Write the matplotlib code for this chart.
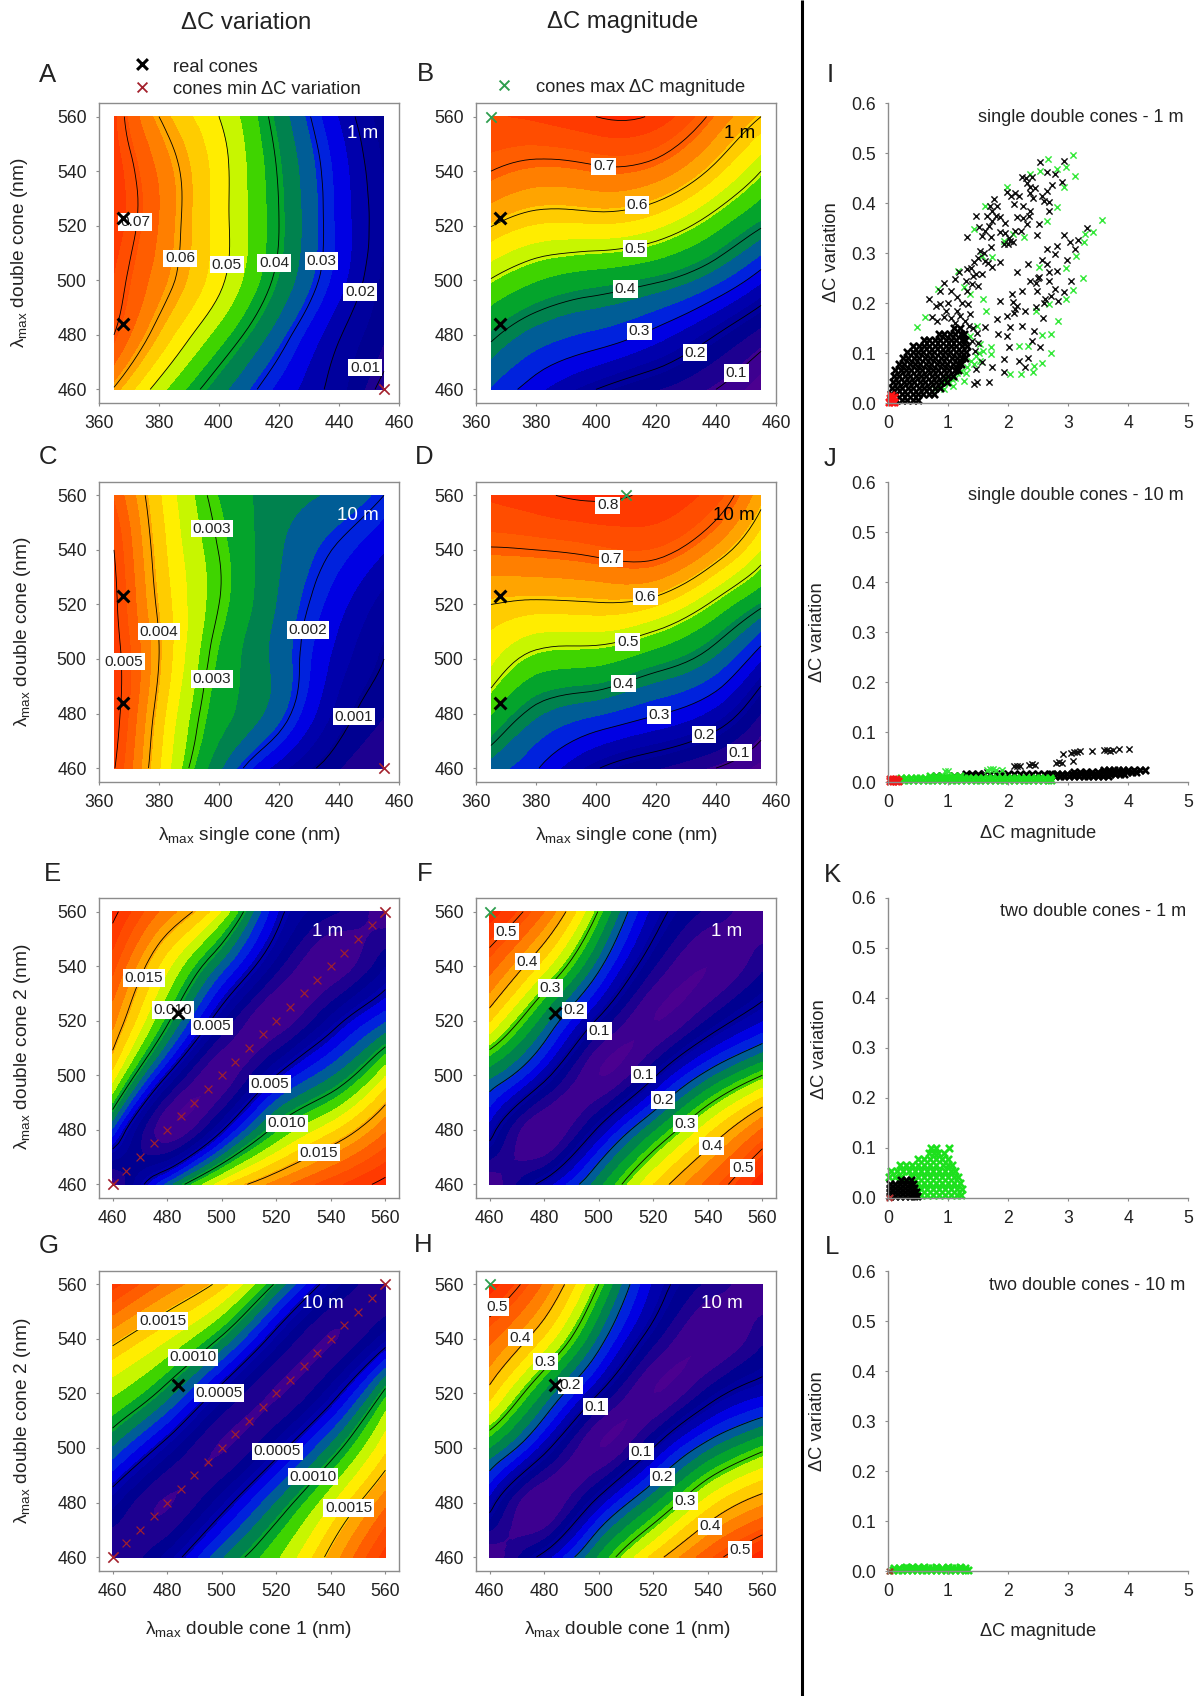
import numpy as np
import matplotlib
matplotlib.use("Agg")
import matplotlib.pyplot as plt
from matplotlib.colors import LinearSegmentedColormap
from matplotlib.tri import Triangulation, UniformTriRefiner

plt.rcParams['font.family'] = ['Liberation Sans', 'DejaVu Sans']
plt.rcParams['mathtext.fontset'] = 'custom'
plt.rcParams['mathtext.rm'] = 'Liberation Sans'
plt.rcParams['mathtext.it'] = 'Liberation Sans'

W, H = 1200, 1696
TXT = '#222222'
GREY = '#8c8c8c'

# grid of the contour panels
single_nm = [365, 380, 400, 420, 440, 455]
double_nm = [460, 480, 500, 520, 540, 560]
double1_nm = [460, 480, 500, 520, 540, 560]

# rows are double cone 460..560, columns are the x grid
z_a = [[.0595, .048, .0367, .0265, .0176, .0078],
       [.070, .0575, .0447, .0327, .0205, .013],
       [.0725, .0631, .0512, .0385, .0255, .015],
       [.0750, .065, .052, .040, .0265, .017],
       [.0750, .0645, .052, .0395, .026, .016],
       [.0735, .060, .050, .0375, .0235, .014]]
z_b = [[.335, .275, .20, .149, .10, .05],
       [.41, .363, .33, .283, .20, .13],
       [.497, .457, .43, .406, .35, .27],
       [.602, .567, .565, .54, .467, .405],
       [.70, .678, .688, .672, .583, .50],
       [.76, .77, .80, .79, .68, .60]]
z_c = [[.00503, .00371, .00242, .00144, .0008, .0005],
       [.0052, .00385, .00276, .00218, .00119, .0008],
       [.0052, .0040, .00286, .00226, .00145, .0010],
       [.0051, .00393, .0030, .00233, .00167, .0012],
       [.0050, .00383, .00299, .0024, .00195, .0016],
       [.0047, .00372, .00288, .0025, .0023, .0020]]
z_d = [[.36, .305, .205, .15, .10, .06],
       [.457, .385, .345, .305, .245, .145],
       [.54, .483, .47, .43, .37, .265],
       [.60, .59, .595, .575, .485, .41],
       [.695, .70, .715, .72, .635, .53],
       [.77, .79, .81, .79, .74, .62]]
z_e = [[.0008, .0080, .0134, .0163, .0185, .0205],
       [.0075, .0008, .0048, .0105, .0135, .0167],
       [.0134, .0050, .0008, .0050, .0085, .0127],
       [.0162, .0103, .0037, .0008, .0040, .0075],
       [.0183, .0131, .0082, .0030, .0008, .0035],
       [.0205, .0164, .0127, .0058, .0028, .0008]]
z_f = [[0, .12, .245, .37, .465, .56],
       [.125, 0, .11, .25, .36, .46],
       [.235, .12, 0, .09, .215, .30],
       [.373, .24, .09, 0, .06, .14],
       [.47, .355, .21, .06, 0, .05],
       [.56, .456, .297, .13, .05, 0]]
z_g = [[.0001, .00037, .00085, .00117, .00155, .0020],
       [.00037, .0001, .0004, .00087, .00128, .0017],
       [.00085, .0004, .0001, .0004, .0009, .00138],
       [.00121, .00092, .0004, .0001, .0004, .00105],
       [.00155, .00131, .00097, .0004, .0001, .0004],
       [.0020, .0017, .00145, .00097, .0004, .0001]]
z_h = [[0, .12, .26, .38, .475, .56],
       [.125, 0, .12, .25, .355, .42],
       [.255, .12, 0, .10, .22, .29],
       [.385, .25, .10, 0, .07, .135],
       [.465, .365, .22, .07, 0, .05],
       [.56, .45, .30, .136, .05, 0]]

# contour lines that are drawn in each panel
lines_a = [.01, .02, .03, .04, .05, .06, .07]
lines_b = [.1, .2, .3, .4, .5, .6, .7, .8]
lines_c = [.001, .002, .003, .004, .005]
lines_d = [.1, .2, .3, .4, .5, .6, .7, .8]
lines_e = [.005, .010, .015, .020]
lines_f = [.1, .2, .3, .4, .5]
lines_g = [.0005, .0010, .0015, .0020]
lines_h = [.1, .2, .3, .4, .5]

# label text, x, y
labels_a = [('0.07', 372, 521.3), ('0.06', 387, 508), ('0.05', 402.6, 505.7), ('0.04', 418.4, 506.3),
            ('0.03', 434.2, 507), ('0.02', 447, 495.7), ('0.01', 448.7, 468)]
labels_b = [('0.7', 402.6, 541.8), ('0.6', 413.7, 527.6), ('0.5', 413, 511.6), ('0.4', 409.8, 496.8),
            ('0.3', 414.4, 481.3), ('0.2', 433, 473.5), ('0.1', 446.8, 466)]
labels_c = [('0.003', 397.6, 547.8), ('0.004', 380, 510), ('0.005', 368.3, 499), ('0.003', 397.6, 492.6),
            ('0.002', 429.7, 510.6), ('0.001', 445, 478.8)]
labels_d = [('0.8', 403.9, 556.3), ('0.7', 405, 536.8), ('0.6', 416.4, 522.8), ('0.5', 410.6, 506.2),
            ('0.4', 409.2, 491), ('0.3', 421, 479.5), ('0.2', 436, 472.2), ('0.1', 447.8, 465.7)]
labels_e = [('0.015', 471.5, 535.6), ('0.010', 482.2, 524), ('0.005', 496.5, 517.9),
            ('0.005', 517.6, 496.8), ('0.010', 524, 482.4), ('0.015', 535.6, 471.6)]
labels_f = [('0.5', 466.1, 552.7), ('0.4', 473.8, 541.7), ('0.3', 482.3, 532), ('0.2', 491, 523.8),
            ('0.1', 500.3, 516.3), ('0.1', 516.3, 500.2), ('0.2', 523.6, 491), ('0.3', 531.8, 482.3),
            ('0.4', 541.4, 474), ('0.5', 552.8, 466)]
labels_g = [('0.0015', 478.3, 546.6), ('0.0010', 489.5, 533.2), ('0.0005', 499, 520.1),
            ('0.0005', 520.4, 498.8), ('0.0010', 533.5, 489.5), ('0.0015', 546.6, 478)]
labels_h = [('0.5', 462.7, 551.7), ('0.4', 471.3, 540.5), ('0.3', 480.4, 531.7), ('0.2', 489.6, 523),
            ('0.1', 498.8, 515.2), ('0.1', 515.6, 498.7), ('0.2', 523.3, 489.3), ('0.3', 531.8, 480.5),
            ('0.4', 540.8, 471.3), ('0.5', 551.8, 462.7)]

# cones marked on the panels
real_single = [(368, 484), (368, 523)]
real_double = [(484, 523)]
min_single = [(455, 460)]
diag_min = [460, 465, 470, 475, 480, 485, 490, 495, 500, 505, 510, 515, 520, 525, 530, 535, 540, 545, 550, 555, 560]

# scatter panels, points
i_black_sparse = [(2.53, .482), (2.94, .485), (2.23, .453), (2.40, .452), (2.65, .462), (2.79, .459), (2.90, .442),
    (2.37, .432), (2.73, .437), (1.98, .422), (2.18, .415), (2.57, .415), (2.68, .402), (1.76, .409), (2.10, .399),
    (2.37, .385), (2.68, .385), (1.46, .375), (1.74, .385), (1.73, .365), (1.87, .372), (2.15, .372), (2.51, .359),
    (2.32, .359), (1.32, .333), (1.51, .352), (1.57, .335), (1.71, .332), (1.87, .342), (2.04, .325), (1.93, .319),
    (2.21, .345), (2.48, .337), (1.71, .312), (1.54, .305), (1.43, .282), (1.62, .285), (1.87, .282), (1.73, .272),
    (1.32, .269), (1.46, .259), (1.57, .259), (1.19, .262), (1.40, .239), (1.12, .249), (1.32, .225), (.94, .240),
    (.87, .225), (1.15, .212), (.68, .209), (.87, .199), (1.34, .199), (1.15, .185), (1.37, .179), (.93, .172),
    (.73, .172), (2.08, .322), (2.00, .318), (2.02, .330), (1.50, .235), (1.42, .255), (2.32, .440), (2.45, .430),
    (1.80, .375), (1.68, .355), (2.25, .395), (2.30, .450), (2.36, .420), (2.42, .410), (2.05, .415), (2.12, .420),
    (2.60, .405), (2.65, .425), (1.65, .375), (1.70, .395), (1.82, .395), (1.95, .360), (2.25, .370), (2.35, .375),
    (2.12, .345), (1.95, .340), (1.62, .345), (1.60, .300), (1.66, .280), (1.50, .290), (1.38, .270), (1.30, .245),
    (1.24, .200), (1.05, .225), (1.00, .200), (.80, .195), (.96, .185), (1.05, .170), (1.20, .175), (1.28, .165),
    (.82, .165), (1.12, .160), (1.35, .155), (1.42, .150), (1.48, .140), (1.40, .125), (1.50, .120), (1.45, .105),
    (3.32, .350), (2.93, .337), (3.03, .322), (3.16, .327), (3.12, .309), (2.65, .309), (2.82, .315), (2.79, .299),
    (2.98, .287), (2.57, .287), (2.34, .279), (2.65, .279), (2.15, .263), (2.68, .262), (2.82, .264), (2.37, .245),
    (2.51, .252), (2.68, .245), (3.05, .245), (2.23, .225), (2.07, .219), (2.48, .225), (2.79, .229), (2.93, .222),
    (1.87, .204), (2.09, .202), (2.62, .209), (2.46, .192), (2.84, .205), (2.12, .189), (2.29, .185), (1.98, .175),
    (1.82, .169), (2.58, .171), (2.04, .152), (2.23, .155), (2.43, .145), (1.84, .139), (1.98, .135), (2.40, .125),
    (1.62, .153), (2.54, .112), (2.01, .112), (1.93, .089), (2.34, .090), (2.18, .085), (2.29, .072), (1.93, .062),
    (1.73, .072), (1.46, .069), (1.57, .082), (1.68, .042), (1.43, .039), (1.48, .042), (2.50, .250), (2.46, .240),
    (2.15, .195), (2.10, .180), (2.72, .215), (2.60, .200)]
i_green = [(2.66, .489), (3.08, .497), (3.11, .455), (2.96, .472), (2.82, .469), (3.57, .367), (3.42, .342), (3.29, .339),
    (3.26, .322), (3.14, .295), (2.97, .271), (3.25, .251), (3.09, .227), (2.96, .209), (2.83, .164), (2.71, .139),
    (2.57, .137), (2.72, .101), (2.57, .080), (2.43, .075), (2.42, .062), (2.21, .059), (2.04, .059), (2.19, .114),
    (2.34, .114), (1.72, .112), (1.58, .209), (1.64, .184), (1.48, .155), (.62, .172), (.48, .152), (.84, .229),
    (1.17, .264), (1.43, .349), (1.62, .395), (1.98, .432), (2.37, .459), (2.54, .465), (2.93, .432), (2.82, .392),
    (2.65, .365), (2.09, .339), (1.93, .325), (2.26, .332), (1.57, .295), (1.73, .292), (1.26, .232), (1.37, .219),
    (2.51, .272), (2.68, .199), (2.46, .185), (.79, .029), (.93, .042), (1.07, .049), (1.21, .065), (1.32, .072),
    (1.46, .095), (1.59, .105), (1.26, .045), (1.09, .035), (.93, .029), (1.54, .085), (1.37, .135), (1.54, .119),
    (1.71, .099), (1.15, .060), (1.38, .085), (1.00, .050), (.87, .035), (1.02, .040), (1.12, .050), (1.30, .060),
    (1.44, .078), (1.52, .100)]
i_core_rows = [(.006, [.05, .14, .23, .32, .41, .50]),
    (.018, [.05, .14, .23, .32, .41, .50, .59, .68, .77]),
    (.030, [.06, .15, .24, .33, .42, .51, .60, .69, .78, .87]),
    (.042, [.08, .17, .26, .35, .44, .53, .62, .71, .80, .89, .98]),
    (.054, [.10, .19, .28, .37, .46, .55, .64, .73, .82, .91, 1.0, 1.09]),
    (.066, [.12, .21, .30, .39, .48, .57, .66, .75, .84, .93, 1.02, 1.11, 1.17]),
    (.078, [.18, .27, .36, .45, .54, .63, .72, .81, .90, .99, 1.08, 1.17, 1.22]),
    (.090, [.25, .34, .43, .52, .61, .70, .79, .88, .97, 1.06, 1.15, 1.24, 1.28]),
    (.102, [.32, .41, .50, .59, .68, .77, .86, .95, 1.04, 1.13, 1.22, 1.30]),
    (.114, [.42, .51, .60, .69, .78, .87, .96, 1.05, 1.14, 1.23, 1.31]),
    (.126, [.60, .69, .78, .87, .96, 1.05, 1.14, 1.23, 1.28]),
    (.138, [.85, .94, 1.03, 1.12, 1.21, 1.26]),
    (.150, [1.10, 1.20])]
i_red = [(.02, .002), (.06, .002), (.10, .002), (.03, .010), (.07, .010), (.10, .012), (.05, .016)]

j_black_strip_rows = [(.013, [.80, .90, 1.00, 1.10, 1.20, 1.30, 1.40, 1.50]),
    (.017, [1.30, 1.40, 1.50, 1.60, 1.70, 1.80, 1.90, 2.00, 2.10, 2.20, 2.30, 2.40, 2.50, 2.60, 2.70]),
    (.012, [2.70, 2.78, 2.86, 2.94, 3.02, 3.10, 3.18, 3.26, 3.34, 3.42, 3.50, 3.58, 3.66]),
    (.016, [2.74, 2.82, 2.90, 2.98, 3.06, 3.14, 3.22, 3.30, 3.38, 3.46, 3.54, 3.62, 3.70, 3.78, 3.86, 3.94]),
    (.020, [3.10, 3.20, 3.30, 3.40, 3.50, 3.58, 3.66, 3.74, 3.82, 3.90, 3.98, 4.06, 4.14]),
    (.024, [3.60, 3.68, 3.76, 3.84, 3.92, 4.00, 4.10, 4.20, 4.28])]
j_black_sparse = [(2.15, .033), (2.20, .033), (2.10, .032), (2.35, .034), (2.40, .036), (2.45, .035), (2.80, .038), (2.85, .040),
    (2.90, .039), (2.92, .057), (3.05, .058), (3.10, .060), (3.15, .060), (3.20, .062), (3.40, .062), (3.08, .042),
    (3.60, .064), (3.65, .064), (3.70, .063), (3.75, .065), (3.85, .067), (4.02, .066), (1.60, .018), (1.65, .020)]
j_green_rows = [(.004, [.18, .26, .34, .42, .50, .58, .66, .74, .82, .90, .98, 1.06, 1.14, 1.22, 1.30, 1.38, 1.46, 1.54, 1.62, 1.70,
                        1.78, 1.86, 1.94, 2.02, 2.10, 2.18, 2.26, 2.34, 2.42, 2.50, 2.58, 2.66, 2.72]),
    (.008, [.22, .30, .38, .46, .54, .62, .70, .78, .86, .94, 1.02, 1.10, 1.18, 1.26, 1.34, 1.42, 1.50, 1.58, 1.66, 1.74,
            1.82, 1.90, 1.98, 2.06, 2.14, 2.22, 2.30, 2.38, 2.46, 2.54, 2.62, 2.70]),
    (.012, [.70, .80, .90, 1.00, 1.10, 1.20])]
j_green_sparse = [(.95, .022), (1.00, .022), (1.65, .025), (1.70, .026), (1.75, .027), (1.80, .025), (1.90, .025)]
j_red = [(.03, .002), (.08, .002), (.13, .002), (.16, .002), (.03, .006), (.08, .006), (.13, .006)]

k_green_rows = [(.006, [.45, .55, .65, .75, .85, .95, 1.05, 1.15, 1.22]),
    (.018, [.45, .55, .65, .75, .85, .95, 1.05, 1.15, 1.24]),
    (.030, [.40, .50, .60, .70, .80, .90, 1.00, 1.10, 1.20]),
    (.042, [.02, .12, .22, .40, .50, .60, .70, .80, .90, 1.00, 1.10, 1.16]),
    (.054, [.05, .15, .25, .35, .45, .55, .65, .75, .85, .95, 1.05, 1.12]),
    (.066, [.20, .30, .40, .50, .60, .70, .80, .92, 1.00, 1.06]),
    (.078, [.50, .60, .70, .80, .90, 1.00]),
    (.090, [.68, .76, .84, .94]),
    (.100, [.72, .80, 1.02])]
k_black_rows = [(.004, [.04, .12, .20, .28, .36, .44, .48]),
    (.012, [.04, .12, .20, .28, .36, .44, .47]),
    (.020, [.04, .12, .20, .28, .36, .44]),
    (.028, [.04, .12, .20, .28, .36, .42]),
    (.036, [.22, .30, .38])]
k_red = [(.01, .001), (.03, .002)]

l_green_rows = [(.002, [.08, .16, .24, .32, .40, .48, .56, .64, .72, .80, .88, .96, 1.04, 1.12, 1.20, 1.28, 1.33]),
    (.006, [.10, .18, .26, .34, .42, .50, .58, .66, .74, .82, .90, .98, 1.06, 1.14, 1.22, 1.28]),
    (.009, [.30, .40, .50, .60, .80, 1.00, 1.20])]
l_red = [(.01, .001), (.03, .001)]

band_colors = [(0, '#4b0090'), (.07, '#200090'), (.12, '#000090'), (.22, '#0000a8'), (.30, '#0000ff'), (.36, '#0050b0'),
               (.42, '#008050'), (.47, '#00a030'), (.52, '#30d000'), (.56, '#a0f000'), (.60, '#ffff00'), (.67, '#ffd000'),
               (.73, '#ffa000'), (.82, '#ff6000'), (1, '#ff2000')]
rainbow = LinearSegmentedColormap.from_list('rainbow_bands', band_colors)


def rows_to_points(rows):
    return [(x, y) for y, xs in rows for x in xs]


def box(fig, left, top, width=300, height=300):
    return fig.add_axes([left / W, 1 - (top + height) / H, width / W, height / H])


def style_axis(ax, sides):
    for s in ax.spines:
        ax.spines[s].set_visible(s in sides)
        ax.spines[s].set_color(GREY)
        ax.spines[s].set_linewidth(1.0)
    ax.tick_params(length=2.4, width=0.8, color=GREY, labelsize=12.7, labelcolor=TXT, pad=6.5)


def smooth_surface(xs, ys, z):
    # triangles run along the main diagonal so the valley stays one straight band
    X, Y = np.meshgrid(xs, ys)
    nx = len(xs)
    tris = []
    for j in range(len(ys) - 1):
        for i in range(nx - 1):
            a = j * nx + i
            tris.append([a, a + 1, a + nx + 1])
            tris.append([a, a + nx + 1, a + nx])
    tri = Triangulation(X.ravel(), Y.ravel(), tris)
    return UniformTriRefiner(tri).refine_field(np.ravel(z), subdiv=3)


def contour_panel(fig, left, top, xs, ys, z, vmin, vmax, lines, labels, xlim, xticks, tag, tag_xy, tag_color):
    ax = box(fig, left, top)
    tri, zz = smooth_surface(xs, ys, z)
    ax.tricontourf(tri, zz, levels=np.linspace(vmin, vmax, 21), cmap=rainbow, extend='both')
    ax.tricontour(tri, zz, levels=lines, colors='k', linewidths=0.6)
    for txt, x, y in labels:
        ax.text(x, y, txt, ha='center', va='center', fontsize=11.1, color=TXT, zorder=5,
                bbox=dict(facecolor='white', edgecolor='none', pad=1.2))
    ax.text(tag_xy[0], tag_xy[1], tag, ha='center', va='center', fontsize=13.5, color=tag_color, zorder=5)
    ax.set_xlim(*xlim)
    ax.set_ylim(455, 565)
    ax.set_xticks(xticks)
    ax.set_yticks([460, 480, 500, 520, 540, 560])
    style_axis(ax, ['left', 'right', 'top', 'bottom'])
    return ax


def cross(ax, pts, color, s, lw):
    xs = [p[0] for p in pts]
    ys = [p[1] for p in pts]
    ax.scatter(xs, ys, marker='x', c=color, s=s, linewidths=lw, clip_on=False, zorder=7)


def scatter_panel(fig, top, groups):
    ax = box(fig, 888, top)
    for pts, color, s, lw in groups:
        ax.scatter([p[0] for p in pts], [p[1] for p in pts], marker='x', c=color, s=s, linewidths=lw, clip_on=False)
    ax.set_xlim(0, 5)
    ax.set_ylim(0, 0.6)
    ax.set_xticks([0, 1, 2, 3, 4, 5])
    ax.set_yticks([0, .1, .2, .3, .4, .5, .6])
    ax.set_yticklabels(['0.0', '0.1', '0.2', '0.3', '0.4', '0.5', '0.6'])
    style_axis(ax, ['left', 'bottom'])
    return ax


fig = plt.figure(figsize=(W / 100, H / 100), dpi=100, facecolor='white')

BLACK_X = dict(s=72, lw=2.2)
RED = '#a3202c'
GREEN = '#2e9e4e'
single_x = [360, 380, 400, 420, 440, 460]
double_x = [460, 480, 500, 520, 540, 560]

ax_a = contour_panel(fig, 99, 103, single_nm, double_nm, z_a, .005, .0803, lines_a, labels_a, (360, 460), single_x, '1 m', (447.9, 553.7), 'white')
ax_b = contour_panel(fig, 476, 103, single_nm, double_nm, z_b, .07, .84, lines_b, labels_b, (360, 460), single_x, '1 m', (447.8, 553.7), 'black')
ax_c = contour_panel(fig, 99, 481.7, single_nm, double_nm, z_c, .00026, .00553, lines_c, labels_c, (360, 460), single_x, '10 m', (446.2, 552.7), 'white')
ax_d = contour_panel(fig, 476, 481.7, single_nm, double_nm, z_d, .07, .84, lines_d, labels_d, (360, 460), single_x, '10 m', (445.9, 552.7), 'black')
ax_e = contour_panel(fig, 99, 898, double1_nm, double_nm, z_e, .0005, .021, lines_e, labels_e, (455, 565), double_x, '1 m', (539, 552.7), 'white')
ax_f = contour_panel(fig, 476, 898, double1_nm, double_nm, z_f, .0, .57, lines_f, labels_f, (455, 565), double_x, '1 m', (547, 552.7), 'white')
ax_g = contour_panel(fig, 99, 1270.7, double1_nm, double_nm, z_g, .0, .00217, lines_g, labels_g, (455, 565), double_x, '10 m', (537, 552.9), 'white')
ax_h = contour_panel(fig, 476, 1270.7, double1_nm, double_nm, z_h, .0, .57, lines_h, labels_h, (455, 565), double_x, '10 m', (545, 552.9), 'white')

for ax in [ax_a, ax_b, ax_c, ax_d]:
    cross(ax, real_single, 'k', **BLACK_X)
for ax in [ax_e, ax_f, ax_g, ax_h]:
    cross(ax, real_double, 'k', **BLACK_X)
for ax in [ax_a, ax_c]:
    cross(ax, min_single, RED, 55, 1.2)
cross(ax_b, [(365, 560)], GREEN, 55, 1.3)
cross(ax_d, [(410, 560)], GREEN, 55, 1.3)
for ax in [ax_f, ax_h]:
    cross(ax, [(460, 560)], GREEN, 55, 1.3)
for ax in [ax_e, ax_g]:
    cross(ax, [(v, v) for v in diag_min[1:-1]], RED, 32, 0.85)
    cross(ax, [(460, 460), (560, 560)], RED, 55, 1.2)

THIN = (20, 1.05)
FAT = (26, 1.9)
scatter_panel(fig, 103, [(i_green, '#35e83a', *THIN), (rows_to_points(i_core_rows), 'k', *FAT),
                         (i_black_sparse, '#111111', *THIN), (i_red, '#ff1515', *FAT)])
scatter_panel(fig, 482, [(rows_to_points(j_black_strip_rows), 'k', *FAT), (j_black_sparse, '#111111', *THIN),
                         (rows_to_points(j_green_rows), '#1de01d', *FAT), (j_green_sparse, '#35e83a', *THIN), (j_red, '#f01515', *FAT)])
scatter_panel(fig, 898, [(rows_to_points(k_green_rows), '#1de01d', *FAT), (rows_to_points(k_black_rows), 'k', *FAT), (k_red, '#b03030', 16, 1.2)])
scatter_panel(fig, 1271, [(rows_to_points(l_green_rows), '#1de01d', *FAT), (l_red, '#904020', 16, 1.2)])

# overlay in pixel coordinates for the free texts and the divider
over = fig.add_axes([0, 0, 1, 1], zorder=10)
over.set_xlim(0, W)
over.set_ylim(H, 0)
over.axis('off')
over.patch.set_alpha(0)
over.plot([802, 802], [0, H], color='black', lw=2.2, solid_capstyle='butt')


def put(x, y, s, size=13, ha='center', rot=0):
    if rot == 0:
        y = y + 2
    over.text(x, y, s, fontsize=size, ha=ha, va='center', rotation=rot, color=TXT)


put(246, 21, '\u0394C variation', 17.2)
put(623, 20, '\u0394C magnitude', 17.2)

letters = [('A', 48, 73), ('B', 425, 72), ('C', 48, 455), ('D', 424, 455), ('E', 52, 872), ('F', 425, 872),
           ('G', 49, 1244), ('H', 423, 1243), ('I', 830, 73), ('J', 830, 457), ('K', 832, 873), ('L', 832, 1245)]
for s, x, y in letters:
    put(x, y, s, 18.5)

put(173, 65, 'real cones', 13.2, ha='left')
put(173, 88, 'cones min \u0394C variation', 13.2, ha='left')
put(536, 86, 'cones max \u0394C magnitude', 13.2, ha='left')
over.scatter([142], [64], marker='x', c='k', s=60, linewidths=2.2)
over.scatter([142], [87], marker='x', c=RED, s=50, linewidths=1.3)
over.scatter([504], [85], marker='x', c=GREEN, s=50, linewidths=1.4)

lam = r'$\mathrm{\lambda}_{\mathrm{max}}$'
put(20, 253, lam + ' double cone (nm)', 13.8, rot=90)
put(23, 632, lam + ' double cone (nm)', 13.8, rot=90)
put(23, 1047, lam + ' double cone 2 (nm)', 13.8, rot=90)
put(23, 1421, lam + ' double cone 2 (nm)', 13.8, rot=90)
put(250, 833, lam + ' single cone (nm)', 13.8)
put(627, 833, lam + ' single cone (nm)', 13.8)
put(248, 1628, lam + ' double cone 1 (nm)', 13.8)
put(627, 1628, lam + ' double cone 1 (nm)', 13.8)

put(832, 252, '\u0394C variation', 13.2, rot=90)
put(818, 632, '\u0394C variation', 13.2, rot=90)
put(819, 1049, '\u0394C variation', 13.2, rot=90)
put(818, 1421, '\u0394C variation', 13.2, rot=90)
put(1038, 831, '\u0394C magnitude', 13.2)
put(1038, 1629, '\u0394C magnitude', 13.2)

put(1184, 115, 'single double cones - 1 m', 13, ha='right')
put(1184, 493, 'single double cones - 10 m', 13, ha='right')
put(1186, 910, 'two double cones - 1 m', 13, ha='right')
put(1185, 1283, 'two double cones - 10 m', 13, ha='right')

fig.savefig('out.png', dpi=100)
